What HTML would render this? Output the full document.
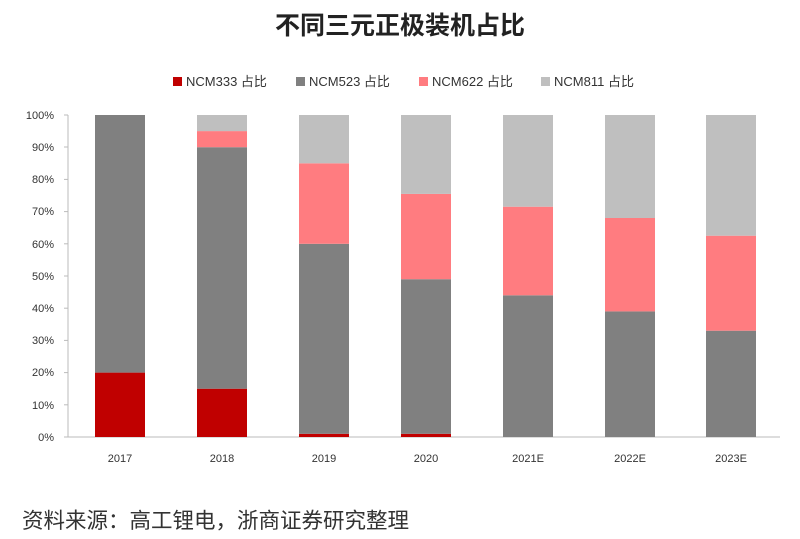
<!DOCTYPE html>
<html><head><meta charset="utf-8"><style>
html,body{margin:0;padding:0;background:#fff;width:800px;height:539px;overflow:hidden}
text{font-family:"Liberation Sans","Noto Sans CJK SC",sans-serif}
</style></head><body>
<svg width="800" height="539" xmlns="http://www.w3.org/2000/svg">
<text x="400" y="34" text-anchor="middle" font-size="25" font-weight="bold" fill="#222">不同三元正极装机占比</text>
<g font-size="13" fill="#333">
<rect x="173" y="77" width="9" height="9" fill="#c00000"/><text x="186" y="86">NCM333 占比</text>
<rect x="296" y="77" width="9" height="9" fill="#808080"/><text x="309" y="86">NCM523 占比</text>
<rect x="419" y="77" width="9" height="9" fill="#ff7c80"/><text x="432" y="86">NCM622 占比</text>
<rect x="541" y="77" width="9" height="9" fill="#bfbfbf"/><text x="554" y="86">NCM811 占比</text>
</g>
<g stroke="#bbb" stroke-width="1">
<line x1="68" y1="115" x2="68" y2="437"/>
<line x1="64" y1="437" x2="780" y2="437"/>
<line x1="64" y1="115" x2="68" y2="115"/><line x1="64" y1="147" x2="68" y2="147"/><line x1="64" y1="179.4" x2="68" y2="179.4"/><line x1="64" y1="211.6" x2="68" y2="211.6"/><line x1="64" y1="243.8" x2="68" y2="243.8"/><line x1="64" y1="276" x2="68" y2="276"/><line x1="64" y1="308.2" x2="68" y2="308.2"/><line x1="64" y1="340.4" x2="68" y2="340.4"/><line x1="64" y1="372.6" x2="68" y2="372.6"/><line x1="64" y1="404.8" x2="68" y2="404.8"/>
</g>
<g font-size="11" fill="#333" text-anchor="end">
<text x="54" y="119">100%</text><text x="54" y="151">90%</text><text x="54" y="183">80%</text><text x="54" y="215">70%</text><text x="54" y="248">60%</text><text x="54" y="280">50%</text><text x="54" y="312">40%</text><text x="54" y="344">30%</text><text x="54" y="376">20%</text><text x="54" y="409">10%</text><text x="54" y="441">0%</text>
</g>
<g>
<rect x="95" y="372.6" width="50" height="64.4" fill="#c00000"/>
<rect x="95" y="115" width="50" height="257.6" fill="#808080"/>

<rect x="197" y="388.7" width="50" height="48.3" fill="#c00000"/>
<rect x="197" y="147.2" width="50" height="241.5" fill="#808080"/>
<rect x="197" y="131.1" width="50" height="16.1" fill="#ff7c80"/>
<rect x="197" y="115" width="50" height="16.1" fill="#bfbfbf"/>

<rect x="299" y="433.8" width="50" height="3.2" fill="#c00000"/>
<rect x="299" y="243.8" width="50" height="190" fill="#808080"/>
<rect x="299" y="163.3" width="50" height="80.5" fill="#ff7c80"/>
<rect x="299" y="115" width="50" height="48.3" fill="#bfbfbf"/>

<rect x="401" y="433.8" width="50" height="3.2" fill="#c00000"/>
<rect x="401" y="279.2" width="50" height="154.6" fill="#808080"/>
<rect x="401" y="193.9" width="50" height="85.3" fill="#ff7c80"/>
<rect x="401" y="115" width="50" height="78.9" fill="#bfbfbf"/>

<rect x="503" y="295.3" width="50" height="141.7" fill="#808080"/>
<rect x="503" y="206.7" width="50" height="88.6" fill="#ff7c80"/>
<rect x="503" y="115" width="50" height="91.7" fill="#bfbfbf"/>

<rect x="605" y="311.4" width="50" height="125.6" fill="#808080"/>
<rect x="605" y="218" width="50" height="93.4" fill="#ff7c80"/>
<rect x="605" y="115" width="50" height="103" fill="#bfbfbf"/>

<rect x="706" y="330.7" width="50" height="106.3" fill="#808080"/>
<rect x="706" y="235.7" width="50" height="95" fill="#ff7c80"/>
<rect x="706" y="115" width="50" height="120.7" fill="#bfbfbf"/>
</g>
<g font-size="11" fill="#333" text-anchor="middle">
<text x="120" y="462">2017</text><text x="222" y="462">2018</text><text x="324" y="462">2019</text><text x="426" y="462">2020</text><text x="528" y="462">2021E</text><text x="630" y="462">2022E</text><text x="731" y="462">2023E</text>
</g>
<text x="22" y="528" font-size="21.5" fill="#333">资料来源：高工锂电，浙商证券研究整理</text>
</svg>
</body></html>
